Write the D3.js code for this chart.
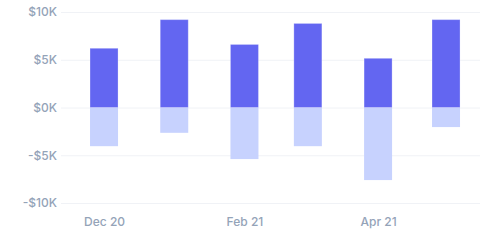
<!DOCTYPE html>
<html><head><meta charset="utf-8">
<script src="https://cdn.jsdelivr.net/npm/d3@7"></script>
<style>html,body{margin:0;padding:0;background:#fff;}svg{display:block;font-family:Inter,sans-serif;}</style>
</head><body>
<svg id="c" width="500" height="248"></svg>
<script>
const months = ["2020-12-01","2021-01-01","2021-02-01","2021-03-01","2021-04-01","2021-05-01"];
const income = [6200, 9200, 6600, 8800, 5150, 9200];
const expenses = [-4050, -2650, -5400, -4050, -7600, -2050];
const yTicks = [-10000, -5000, 0, 5000, 10000];
const xTickLabels = ["Dec 20", "Feb 21", "Apr 21"];

const parse = d3.utcParse("%Y-%m-%d");
const dates = months.map(parse);
const svg = d3.select("#c");
const x = d3.scaleUtc().domain([parse("2020-11-12"), parse("2021-05-16")]).range([61, 480]);
const y = d3.scaleLinear().domain([-10000, 10000]).range([203, 12]);
const fmt = v => (v < 0 ? "-" : "") + "$" + Math.abs(v / 1000) + "K";

// grid + y labels
const ya = svg.append("g").attr("transform", "translate(61,0)")
  .call(d3.axisLeft(y).tickValues(yTicks).tickSize(-419).tickPadding(4).tickFormat(fmt));
ya.select(".domain").remove();
ya.selectAll(".tick line").attr("stroke", "#f0f2f6");
ya.selectAll(".tick text").attr("fill", "#94a3b8").attr("font-size", 12).attr("font-weight", 500).attr("font-family", "Inter, sans-serif");

// x axis
const xTickDates = [dates[0], dates[2], dates[4]];
const xa = svg.append("g").attr("transform", "translate(0,203)")
  .call(d3.axisBottom(x).tickValues(xTickDates).tickSize(0).tickPadding(14.5)
    .tickFormat((d, i) => xTickLabels[i]));
xa.select(".domain").remove();
xa.selectAll(".tick text").attr("fill", "#94a3b8").attr("font-size", 12).attr("font-weight", 500).attr("font-family", "Inter, sans-serif");

const bw = 28;
svg.append("g").selectAll("rect").data(dates).join("rect")
  .attr("x", d => x(d) - bw / 2).attr("width", bw)
  .attr("y", (d, i) => y(0)).attr("height", (d, i) => y(expenses[i]) - y(0))
  .attr("fill", "#c7d2fe");
svg.append("g").selectAll("rect").data(dates).join("rect")
  .attr("x", d => x(d) - bw / 2).attr("width", bw)
  .attr("y", (d, i) => y(income[i])).attr("height", (d, i) => y(0) - y(income[i]))
  .attr("fill", "#6366f1").attr("stroke", "rgba(255,255,255,0.25)").attr("stroke-width", 1);
</script>
</body></html>
